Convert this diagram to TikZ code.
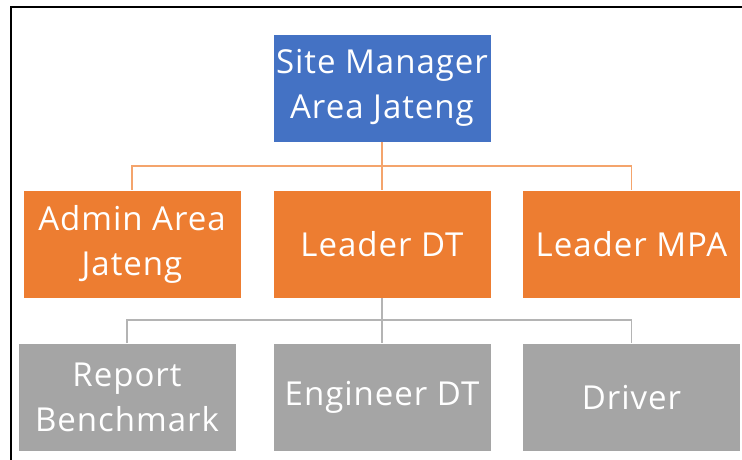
\documentclass[tikz,border=0pt]{standalone}
\usepackage{fontspec}
\newfontfamily\boxfont[LetterSpace=3]{Open Sans}
\usepackage{tikz}
\usetikzlibrary{calc}
\definecolor{smblue}{HTML}{4472C4}
\definecolor{ldorange}{HTML}{ED7D31}
\definecolor{stgray}{HTML}{A5A5A5}
\definecolor{olink}{HTML}{F4A46C}
\definecolor{glink}{HTML}{B4B4B4}

\begin{document}
\begin{tikzpicture}[x=1pt, y=-1pt,
		box/.style={draw=white, line width=.75pt, minimum width=218pt, minimum height=108pt,
			inner sep=0pt, text=white, align=center, font=\boxfont\fontsize{33}{45}\selectfont},
		olinkline/.style={draw=olink, line width=1.6pt},
		glinkline/.style={draw=glink, line width=1.8pt}]
		
			\useasboundingbox (0,0) rectangle (742,459);
			
			% frame
			\draw[line width=2pt] (11,470) -- (11,7) -- (750,7);
			
			\node[box, fill=smblue] (sm) at (382,88) {Site Manager\\Area Jateng};
			
			\node[box, fill=ldorange] (adm) at (132,244) {Admin Area\\Jateng};
			\node[box, fill=ldorange] (ldt) at (382,244) {Leader DT};
			\node[box, fill=ldorange] (mpa) at (631.5,244) {Leader MPA};
			
			\node[box, fill=stgray] (rep) at (127,397.5) {Report\\Benchmark};
			\node[box, fill=stgray] (eng) at (382,397.5) {Engineer DT};
			\node[box, fill=stgray] (drv) at (631.5,397.5) {Driver};
			
			\coordinate (ob) at (382,166);
			\coordinate (gb) at (382,320);
			
			\draw[olinkline] (sm.south) -- (ob);
			\draw[olinkline] (adm.north) |- (ob) -| (mpa.north);
			\draw[olinkline] (ob) -- (ldt.north);
			
			\draw[glinkline] (ldt.south) -- (gb);
			\draw[glinkline] (rep.north) |- (gb) -| (drv.north);
			\draw[glinkline] (gb) -- (eng.north);
			
\end{tikzpicture}
\end{document}
